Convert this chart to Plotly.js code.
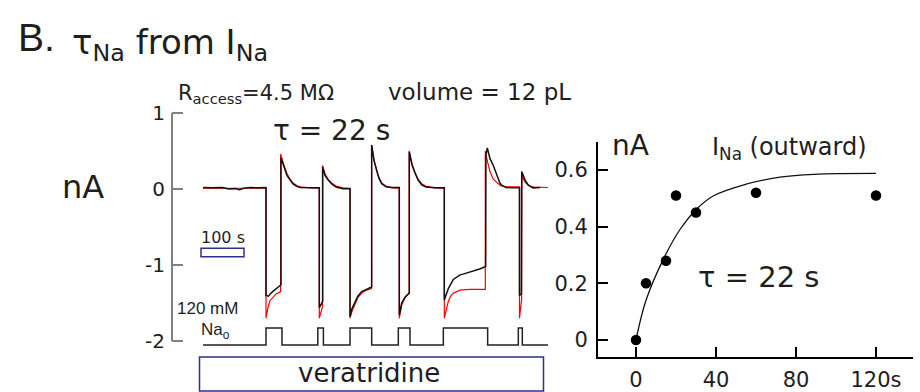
<!DOCTYPE html>
<html><head><meta charset="utf-8">
<script src="https://cdn.plot.ly/plotly-3.0.1.min.js"></script>
<style>html,body{margin:0;padding:0;background:#fff}#plot{width:920px;height:392px}</style>
</head><body><div id="plot"></div>
<script>
// ---- Left panel: current record (nA) vs time (s) ----
const tBlack = [0,20,45,60,75,85,95,110,130,146.5,
 146.5,152,160,170,181.4,
 181.4,188.4,195.3,202.3,209.3,218,226,250,270.5,
 270.5,276,278.4,
 278.4,283.7,290.7,299.3,309.3,325.6,341.9,
 341.9,346,353.5,360,369.1,380,392.3,
 392.3,397.7,404,409.3,415.6,425.6,440,456.5,
 456.5,462.1,470,479.8,
 479.8,486,493,500,508.6,518.6,539.5,561.2,
 561.2,570.5,582.1,590,597.7,605,617,625,636.5,645,657.4,
 658,661.2,667.4,675.1,683.7,690.7,697,705,718.6,736,
 736,740.5,
 741.2,745,748.8,756.5,767.4,783.7];
const iBlack = [0.02,0.015,0.02,0.0,0.005,-0.01,0.01,0.02,0.015,0.02,
 -1.40,-1.41,-1.36,-1.31,-1.26,
 0.41,0.28,0.18,0.12,0.066,0.035,0.02,0.015,0.015,
 -1.56,-1.51,-1.48,
 0.29,0.18,0.12,0.066,0.026,0.005,0.005,
 -1.68,-1.58,-1.48,-1.41,-1.35,-1.32,-1.29,
 0.58,0.38,0.24,0.14,0.07,0.03,0.02,0.02,
 -1.66,-1.50,-1.42,-1.37,
 0.49,0.32,0.21,0.12,0.055,0.025,0.015,0.015,
 -1.46,-1.31,-1.19,-1.16,-1.13,-1.12,-1.10,-1.09,-1.07,-1.05,-1.02,
 0.45,0.54,0.40,0.31,0.17,0.075,0.04,0.02,0.015,0.015,
 -1.40,-1.38,
 0.23,0.17,0.12,0.05,0.015,0.02];
const tRed = [0,146.5,
 146.5,151,155.8,163.5,170,180.5,
 180.5,188.4,195.3,202.3,209.3,218,226,250,270.5,
 270.5,274,277.8,
 277.8,283.7,290.7,299.3,309.3,325.6,341.9,
 341.9,346,350,353.5,360,369.1,380,392,
 392,397.7,404,409.3,415.6,425.6,440,456.5,
 456.5,462.1,470,479.5,
 479.5,486,493,500,508.6,518.6,539.5,561.2,
 561.2,566,570.5,576,582.1,597.7,620,656.5,
 656.5,662,667.4,675,683.7,692,705,736,
 736,741,
 741.5,745,752,760,770,802];
const iRed = [0.01,0.01,
 -1.70,-1.56,-1.47,-1.42,-1.38,-1.35,
 0.46,0.31,0.20,0.13,0.08,0.045,0.03,0.015,0.01,
 -1.70,-1.62,-1.55,
 0.31,0.20,0.13,0.08,0.04,0.015,0.01,
 -1.70,-1.62,-1.56,-1.50,-1.43,-1.37,-1.33,-1.31,
 0.57,0.37,0.24,0.15,0.08,0.035,0.015,0.01,
 -1.70,-1.53,-1.43,-1.37,
 0.50,0.33,0.22,0.13,0.07,0.035,0.015,0.01,
 -1.70,-1.57,-1.48,-1.41,-1.37,-1.33,-1.32,-1.32,
 0.50,0.35,0.23,0.13,0.08,0.045,0.03,0.03,
 -1.70,-1.45,
 0.18,0.13,0.07,0.04,0.025,0.02];
// extracellular Na (mM) protocol
const tNa = [0,146.5,146.5,183.7,183.7,267,267,280,280,341.9,341.9,392.3,392.3,454.2,454.2,481.4,481.4,558.9,558.9,662,662,733.3,733.3,742.6,742.6,802.3];
const naMM = [0,0,120,120,0,0,120,120,0,0,120,120,0,0,120,120,0,0,120,120,0,0,120,120,0,0];
const leftTickVals = [-2,-1,0,1];
const leftTickText = ["-2","-1","0","1"];

// ---- Right panel: outward I_Na vs Na-free time ----
const ptT = [0,5,15,20,30,60,120];
const ptI = [0,0.20,0.28,0.51,0.45,0.52,0.51];
const fitT = [0,5,14,22,30,39,55,72,89,120];
const fitI = [0,0.14,0.29,0.39,0.46,0.51,0.55,0.575,0.585,0.588];
const rightXTickVals = [0,40,80,120];
const rightXTickText = ["0","40","80","120s"];
const rightYTickVals = [0,0.2,0.4,0.6];
const rightYTickText = ["0","0.2","0.4","0.6"];

const W=920,H=392;
const px = x => x/W, py = y => 1 - y/H;
const FONT = "DejaVu Sans, Liberation Sans, sans-serif";
const FONT2 = "Liberation Sans, Arial, sans-serif";
const TXT = "#1e1e1e";

const traces = [
 {x:tRed, y:iRed, xaxis:'x', yaxis:'y', mode:'lines', line:{color:'#ff0000', width:1.2}, hoverinfo:'skip'},
 {x:tBlack, y:iBlack, xaxis:'x', yaxis:'y', mode:'lines', line:{color:'#111', width:1.5}, hoverinfo:'skip'},
 {x:tNa, y:naMM, xaxis:'x', yaxis:'y3', mode:'lines', line:{color:'#222', width:1.5}, hoverinfo:'skip'},
 {x:fitT, y:fitI, xaxis:'x2', yaxis:'y2', mode:'lines', line:{color:'#111', width:1.3, shape:'spline'}, hoverinfo:'skip'},
 {x:ptT, y:ptI, xaxis:'x2', yaxis:'y2', mode:'markers', marker:{color:'#000', size:10.5}, cliponaxis:false, hoverinfo:'skip'}
];

function ann(text, x, y, size, xanchor, fam){
  return {text:text, xref:'paper', yref:'paper', x:px(x), y:py(y), xanchor:xanchor||'left', yanchor:'middle',
    showarrow:false, font:{family:fam||FONT, size:size, color:TXT}};
}

const layout = {
 width:W, height:H, margin:{l:0,r:0,t:0,b:0}, paper_bgcolor:'#fff', plot_bgcolor:'rgba(0,0,0,0)', showlegend:false,
 font:{family:FONT, color:TXT},
 xaxis:{domain:[px(172), px(555)], range:[-72.1, 818.6], visible:false, fixedrange:true},
 yaxis:{domain:[py(348.6), py(111.5)], range:[-2.1, 1.02], anchor:'x', showline:false, showgrid:false, zeroline:false,
   tickvals:leftTickVals, ticktext:leftTickText, ticks:'inside', ticklen:11, tickwidth:1.5, tickcolor:'#808080',
   tickfont:{family:FONT, size:20, color:TXT}, ticklabelstandoff:6},
 yaxis3:{domain:[py(348.6), py(325)], range:[-25.4, 141.2], anchor:'x', visible:false},
 xaxis2:{domain:[px(598), px(913)], range:[-19, 138.5], anchor:'y2', showline:true, linecolor:'#000', linewidth:2,
   showgrid:false, zeroline:false, ticks:'inside', ticklen:10, tickwidth:2, tickcolor:'#000',
   tickvals:rightXTickVals, ticktext:rightXTickText, tickfont:{family:FONT, size:21, color:TXT}, ticklabelstandoff:3},
 yaxis2:{domain:[py(356.7), py(141.7)], range:[-0.059, 0.70], anchor:'x2', showline:true, linecolor:'#000', linewidth:2,
   showgrid:false, zeroline:false, ticks:'inside', ticklen:10, tickwidth:2, tickcolor:'#000',
   tickvals:rightYTickVals, ticktext:rightYTickText, tickfont:{family:FONT, size:21, color:TXT}, ticklabelstandoff:4},
 shapes:[
  {type:'line', xref:'x domain', yref:'y', x0:0, x1:0, y0:-2, y1:1, line:{color:'#808080', width:2}},
  {type:'rect', xref:'x', yref:'y', x0:-4.65, x1:95.35, y0:-0.89, y1:-0.78, line:{color:'#2e2e8c', width:1.5}},
  {type:'rect', xref:'paper', yref:'paper', x0:px(199.5), x1:px(543.5), y0:py(391), y1:py(357), line:{color:'#2e2e8c', width:1.5}}
 ],
 annotations:[
  ann('B.', 16, 38, 39, 'left', FONT2),
  ann('τ<sub>Na</sub> from I<sub>Na</sub>', 70, 44, 34),
  ann('R<sub>access</sub>=4.5 MΩ', 176, 94, 21),
  ann('volume = 12 pL', 386, 92, 23),
  ann('τ = 22 s', 271, 130, 28),
  ann('nA', 60, 187, 32),
  ann('100 s', 199, 238, 16),
  ann('120 mM', 175, 308, 17, 'left', FONT2),
  ann('Na<sub>o</sub>', 199, 331, 17, 'left', FONT2),
  ann('veratridine', 369, 373, 26, 'center'),
  ann('nA', 610, 145, 28),
  ann('I<sub>Na</sub> (outward)', 710, 148, 24),
  ann('τ = 22 s', 696, 277, 29)
 ]
};
Plotly.newPlot('plot', traces, layout, {staticPlot:true, displayModeBar:false});
</script></body></html>
